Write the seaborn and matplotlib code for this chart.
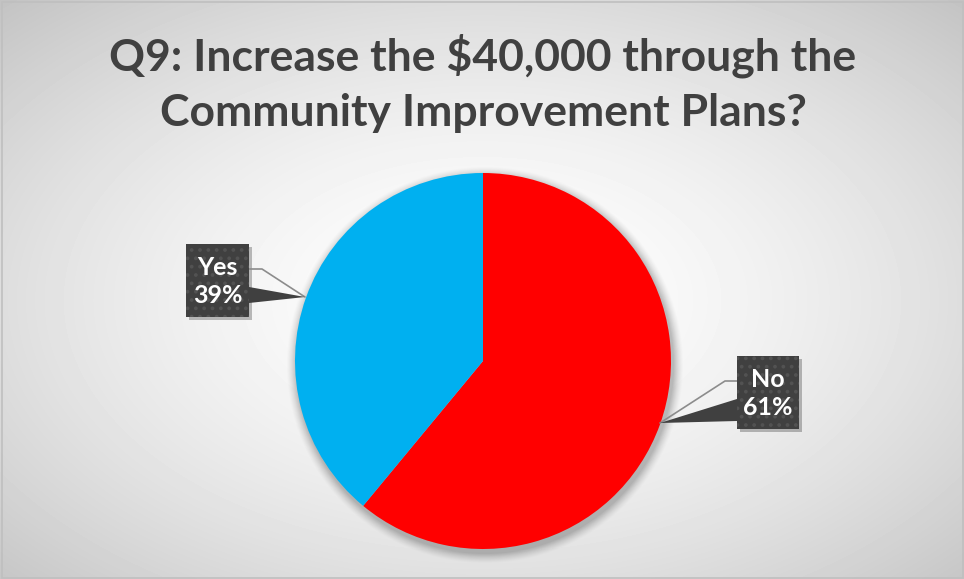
import numpy as np
import matplotlib
matplotlib.use("Agg")
import matplotlib.pyplot as plt
import matplotlib.patches as mpatches
import seaborn as sns

# Survey answers
categories = ["No", "Yes"]
shares = [61, 39]
title = "Q9: Increase the $40,000 through the\nCommunity Improvement Plans?"

sns.set_theme(style="white")
plt.rcParams["font.family"] = ["Lato", "DejaVu Sans"]
plt.rcParams["hatch.linewidth"] = 1.5
palette = sns.color_palette(["#FF0000", "#00B0F0"])

W, H = 964, 579
fig = plt.figure(figsize=(W / 100, H / 100), dpi=100)

# Radial grey-to-white backdrop
bg = fig.add_axes([0, 0, 1, 1])
yy, xx = np.mgrid[0:H, 0:W]
cx, cy = 482, 300
r = np.sqrt(((xx - cx) / (W / 2)) ** 2 + ((yy - cy) / (H / 2)) ** 2) / np.sqrt(2)
shade = 1 - 0.23 * np.clip(r, 0, 1.2) ** 1.6
bg.imshow(shade, cmap="gray", vmin=0, vmax=1, extent=(0, W, H, 0), aspect="auto",
          interpolation="bilinear")
bg.set_axis_off()

# Drawing layer in pixel units (y measured from the bottom)
ax = fig.add_axes([0, 0, 1, 1])
ax.patch.set_alpha(0)

def py(y):
    return H - y

center = (483, py(361))
radius = 188

# Soft drop shadow under the pie
for k, a in zip(range(10, 0, -1), np.linspace(0.012, 0.04, 10)):
    ax.add_patch(mpatches.Circle((center[0] + 2, center[1] - 4), radius + k,
                                 color="black", alpha=a, lw=0, zorder=1))

wedges, _ = ax.pie(shares, colors=palette, startangle=90, counterclock=False,
                   center=center, radius=radius, frame=True,
                   wedgeprops=dict(linewidth=0, zorder=2))
ax.set_xlim(0, W)
ax.set_ylim(0, H)
ax.set_aspect("equal")
ax.set_axis_off()

# Title
ax.text(W / 2 + 1, py(83), title, ha="center", va="center", fontsize=32,
        fontweight="bold", color="#404040", linespacing=1.45, zorder=5)


def callout(label, value, box, line_pts, wedge_base, tip):
    x0, y0, x1, y1 = box
    # shadow
    ax.add_patch(mpatches.Rectangle((x0 + 3, py(y1) - 3), x1 - x0, y1 - y0,
                                    facecolor="black", alpha=0.25, lw=0, zorder=5))
    pts = [(x, py(y)) for x, y in line_pts]
    ax.plot([p[0] for p in pts], [p[1] for p in pts], color="#8c8c8c", lw=1.2, zorder=6)
    tri = [(wedge_base[0], py(wedge_base[1])), (wedge_base[0], py(wedge_base[2])),
           (tip[0], py(tip[1]))]
    ax.add_patch(mpatches.Polygon(tri, closed=True, facecolor="#404040",
                                  edgecolor="none", zorder=6))
    ax.add_patch(mpatches.Rectangle((x0, py(y1)), x1 - x0, y1 - y0, facecolor="#404040",
                                    edgecolor="#525252", hatch="..", lw=0, zorder=7))
    ax.text((x0 + x1) / 2, py((y0 + y1) / 2 + 1), f"{label}\n{value}%", ha="center",
            va="center", color="white", fontsize=18, fontweight="bold",
            linespacing=1.25, zorder=8)


callout(categories[1], shares[1], (186, 244, 249, 317),
        [(249, 269), (262, 269), (305, 297)], (249, 287, 303), (305, 297))
callout(categories[0], shares[0], (737, 356, 799, 429),
        [(737, 381), (725, 381), (660, 423)], (737, 399, 421), (660, 423))

# Chart frame
ax.add_patch(mpatches.Rectangle((1.5, 1.5), W - 3, H - 3, fill=False,
                                edgecolor="#bfbfbf", lw=1.2, zorder=9))

fig.savefig("out.png", dpi=100)
